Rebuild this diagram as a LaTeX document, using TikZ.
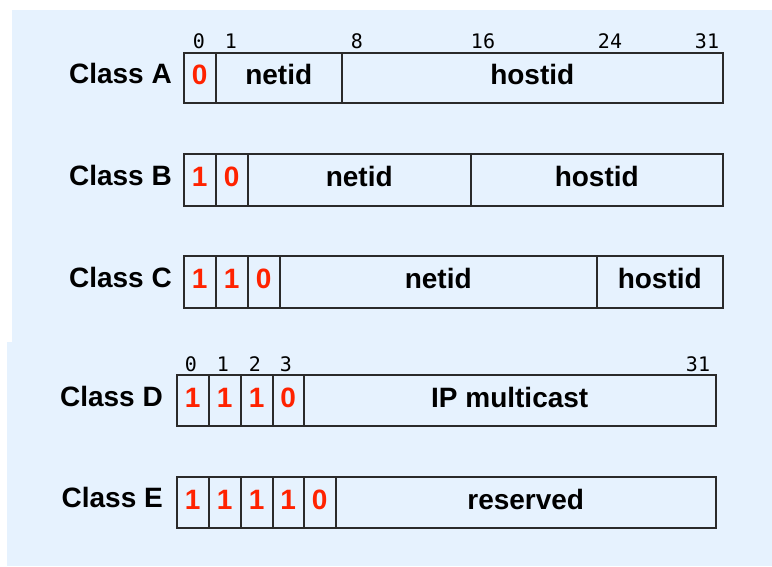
\documentclass[tikz,border=0pt]{standalone}
\usepackage{fontspec}
\setmainfont{Liberation Sans}
\newfontfamily\bitfont{DejaVu Sans Mono}
\definecolor{bgblue}{HTML}{E6F2FE}
\definecolor{bitred}{HTML}{FF2200}
\definecolor{edge}{HTML}{2A2A2A}
\begin{document}
\begin{tikzpicture}[x=1pt,y=-1pt,
  field/.style={draw=edge, line width=1.5pt, anchor=west, inner sep=0pt,
    text height=20pt, text depth=7pt,
    font=\fontsize{28}{28}\selectfont\bfseries, text=black},
  redbit/.style={field, text=bitred},
  classlabel/.style={anchor=east, inner sep=0pt, font=\fontsize{28}{28}\selectfont\bfseries},
  bitno/.style={inner sep=0pt, font=\bitfont\fontsize{20}{20}\selectfont, text=black}]
\useasboundingbox (0,0) rectangle (772,567);
\fill[bgblue] (12,10) rectangle (772,343);
\fill[bgblue] (7,342) rectangle (772,566);
% Class A
\node[classlabel] (la) at (172,73) {Class A};
\node[redbit, minimum width=32, minimum height=50] (a0) at (183,78) {0};
\node[field, minimum width=126, minimum height=50] (a1) at (215,78) {netid};
\node[field, minimum width=381, minimum height=50] (a2) at (341,78) {hostid};
\node[bitno] (na0) at (199,41) {0};
\node[bitno] (na1) at (231,41) {1};
\node[bitno] (na8) at (357,41) {8};
\node[bitno] (na16) at (483,41) {16};
\node[bitno] (na24) at (610,41) {24};
\node[bitno] (na31) at (707,41) {31};
% Class B
\node[classlabel] (lb) at (172,175) {Class B};
\node[redbit, minimum width=32, minimum height=52] (b0) at (183,180) {1};
\node[redbit, minimum width=32, minimum height=52] (b1) at (215,180) {0};
\node[field, minimum width=223, minimum height=52] (b2) at (247,180) {netid};
\node[field, minimum width=252, minimum height=52] (b3) at (470,180) {hostid};
% Class C
\node[classlabel] (lc) at (172,277) {Class C};
\node[redbit, minimum width=32, minimum height=52] (c0) at (183,282) {1};
\node[redbit, minimum width=32, minimum height=52] (c1) at (215,282) {1};
\node[redbit, minimum width=32, minimum height=52] (c2) at (247,282) {0};
\node[field, minimum width=317, minimum height=52] (c3) at (279,282) {netid};
\node[field, minimum width=126, minimum height=52] (c4) at (596,282) {hostid};
% Class D
\node[classlabel] (ld) at (163,396) {Class D};
\node[redbit, minimum width=32, minimum height=51] (d0) at (176,400.5) {1};
\node[redbit, minimum width=32, minimum height=51] (d1) at (208,400.5) {1};
\node[redbit, minimum width=32, minimum height=51] (d2) at (240,400.5) {1};
\node[redbit, minimum width=31, minimum height=51] (d3) at (272,400.5) {0};
\node[field, minimum width=412, minimum height=51] (d4) at (303,400.5) {IP multicast};
\node[bitno] (nd0) at (191,364) {0};
\node[bitno] (nd1) at (223,364) {1};
\node[bitno] (nd2) at (255,364) {2};
\node[bitno] (nd3) at (286,364) {3};
\node[bitno] (nd31) at (698,364) {31};
% Class E
\node[classlabel] (le) at (163,497) {Class E};
\node[redbit, minimum width=32, minimum height=51] (e0) at (176,502.5) {1};
\node[redbit, minimum width=32, minimum height=51] (e1) at (208,502.5) {1};
\node[redbit, minimum width=32, minimum height=51] (e2) at (240,502.5) {1};
\node[redbit, minimum width=31, minimum height=51] (e3) at (272,502.5) {1};
\node[redbit, minimum width=32, minimum height=51] (e4) at (303,502.5) {0};
\node[field, minimum width=380, minimum height=51] (e5) at (335,502.5) {reserved};
\end{tikzpicture}
\end{document}
